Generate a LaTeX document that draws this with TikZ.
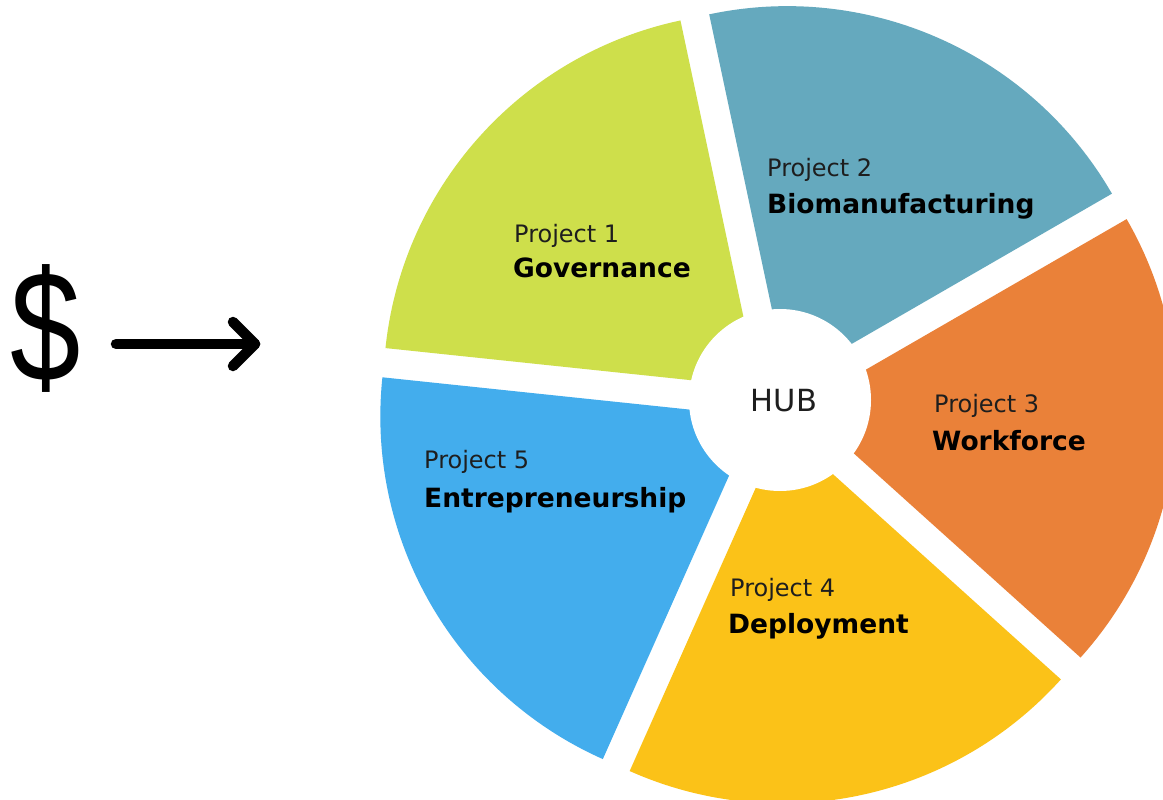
\documentclass[tikz,border=0pt]{standalone}
\usepackage{fontspec}
\setmainfont{DejaVu Sans}
\newfontfamily\dollarfont[FakeStretch=0.8]{Liberation Sans}
\usetikzlibrary{calc}
\definecolor{cgreen}{RGB}{206,223,75}
\definecolor{cteal}{RGB}{101,169,190}
\definecolor{corange}{RGB}{234,129,57}
\definecolor{cyellow}{RGB}{251,194,24}
\definecolor{cblue}{RGB}{67,173,237}
\definecolor{ctext}{RGB}{30,30,30}
\begin{document}
\begin{tikzpicture}[x=1pt,y=1pt,
  plabel/.style={anchor=base west, inner sep=0pt, text=ctext, font=\fontsize{24}{28}\selectfont},
  tlabel/.style={anchor=base west, inner sep=0pt, text=black, font=\fontsize{26.5}{30}\selectfont\bfseries},
  arrowline/.style={line width=10.5pt, line cap=round, line join=round, black}]
\useasboundingbox (0,0) rectangle (1163,-800);
\fill[white] (0,0) rectangle (1163,-800);
\begin{scope}
  \clip (0,0) rectangle (1163,-800);
  \coordinate (C) at (777,-404);
  \foreach \b/\c in {138/cgreen, 66/cteal, 354/corange, 282/cyellow, 210/cblue} {
    \fill[\c] ($(C)+(\b:25)$) -- ++(\b-36:375) arc[start angle=\b-36, end angle=\b+36, radius=375] -- cycle;
  }
\end{scope}
\fill[white] (780,-400) circle (91);
\node[inner sep=0pt, text=ctext, font=\fontsize{30.5}{34}\selectfont] (hub) at (784,-401) {HUB};

\node[plabel] (p1) at (514,-242) {Project 1};
\node[tlabel] (t1) at (513,-277) {Governance};
\node[plabel] (p2) at (767,-176) {Project 2};
\node[tlabel] (t2) at (767,-213) {Biomanufacturing};
\node[plabel] (p3) at (934,-412) {Project 3};
\node[tlabel] (t3) at (932,-450) {Workforce};
\node[plabel] (p4) at (730,-596) {Project 4};
\node[tlabel] (t4) at (728,-633) {Deployment};
\node[plabel] (p5) at (424,-468) {Project 5};
\node[tlabel] (t5) at (424,-507) {Entrepreneurship};

\node[anchor=base, inner sep=0pt, font=\dollarfont\fontsize{158}{158}\selectfont] (dollar) at (46,-381) {\$};
\coordinate (ar0) at (116,-344);
\coordinate (tip) at (255,-344);
\coordinate (arU) at (233,-322);
\coordinate (arD) at (233,-366);
\draw[arrowline] (ar0) -- (tip);
\draw[arrowline] (arU) -- (tip) -- (arD);
\end{tikzpicture}
\end{document}
